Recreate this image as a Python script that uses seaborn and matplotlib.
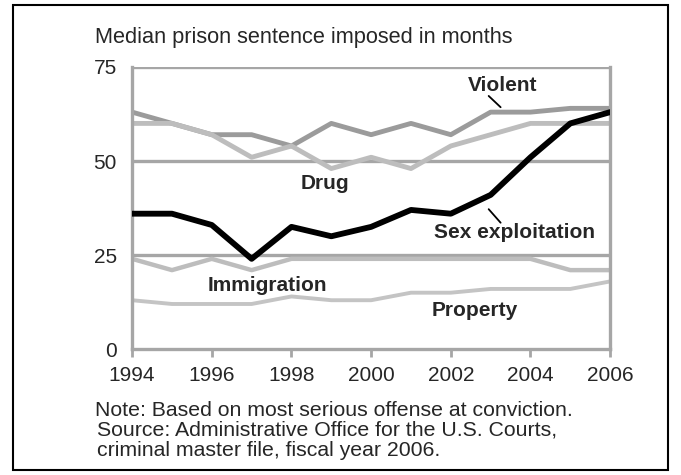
import numpy as np
import pandas as pd
import seaborn as sns
import matplotlib.pyplot as plt
from matplotlib.patches import Rectangle

# data
years = list(range(1994, 2007))
violent = [63, 60, 57, 57, 54, 60, 57, 60, 57, 63, 63, 64, 64]
drug = [60, 60, 57, 51, 54, 48, 51, 48, 54, 57, 60, 60, 60]
sex_exploitation = [36, 36, 33, 24, 32.5, 30, 32.5, 37, 36, 41, 51, 60, 63]
immigration = [24, 21, 24, 21, 24, 24, 24, 24, 24, 24, 24, 21, 21]
property_ = [13, 12, 12, 12, 14, 13, 13, 15, 15, 16, 16, 16, 18]

offenses = ["Violent", "Drug", "Immigration", "Property", "Sex exploitation"]
series = [violent, drug, immigration, property_, sex_exploitation]
colors = ["#9b9b9b", "#bdbdbd", "#bdbdbd", "#c4c4c4", "#000000"]
widths = [3.5, 3.5, 3.2, 2.8, 4.2]

df = pd.DataFrame({
    "year": np.tile(years, len(offenses)),
    "months": np.concatenate(series),
    "offense": np.repeat(offenses, len(years)),
})

sns.set_style("white")
plt.rcParams["font.family"] = ["Liberation Sans", "DejaVu Sans"]

fig = plt.figure(figsize=(6.81, 4.75), dpi=100)
ax = fig.add_axes([0.194, 0.265, 0.702, 0.594])

gray = "#a6a6a6"
for v in [25, 50, 75]:
    ax.axhline(v, color=gray, lw=2.4, zorder=1)

for name, c, w in zip(offenses, colors, widths):
    sns.lineplot(data=df[df.offense == name], x="year", y="months", color=c,
                 lw=w, ax=ax, zorder=3 if name == "Sex exploitation" else 2)

ax.set_xlim(1994, 2006)
ax.set_ylim(0, 75)
ax.set_xticks(range(1994, 2007, 2))
ax.set_yticks([0, 25, 50, 75])
ax.set_xlabel("")
ax.set_ylabel("")
ax.spines["top"].set_visible(False)
for s in ["left", "bottom", "right"]:
    ax.spines[s].set_color(gray)
    ax.spines[s].set_linewidth(2.4)
ax.tick_params(axis="x", bottom=True, length=6, width=2, color=gray,
               labelsize=15, pad=6)
ax.tick_params(axis="y", length=0, labelsize=15, pad=11)

# series labels
lab = dict(fontsize=15, fontweight="bold", ha="center", va="center")
ax.text(2003.3, 70.2, "Violent", **lab)
ax.plot([2002.95, 2003.25], [67.3, 64.3], color="black", lw=1.3)
ax.text(1998.85, 44.1, "Drug", **lab)
ax.text(2003.6, 31.1, "Sex exploitation", **lab)
ax.plot([2002.95, 2003.25], [37.2, 33.6], color="black", lw=1.3)
ax.text(1997.4, 17.0, "Immigration", **lab)
ax.text(2002.6, 10.4, "Property", **lab)

fig.text(95 / 681, 1 - 38 / 475, "Median prison sentence imposed in months",
         fontsize=15.7, ha="left", va="center")
fig.text(95 / 681, 1 - 411 / 475, "Note: Based on most serious offense at conviction.",
         fontsize=15.3, ha="left", va="center")
fig.text(97 / 681, 1 - 430 / 475, "Source: Administrative Office for the U.S. Courts,",
         fontsize=15.3, ha="left", va="center")
fig.text(97 / 681, 1 - 450 / 475, "criminal master file, fiscal year 2006.",
         fontsize=15.3, ha="left", va="center")

fig.patches.append(Rectangle((13 / 681, 5 / 475), 655 / 681, 465 / 475,
                             transform=fig.transFigure, fill=False,
                             edgecolor="black", lw=1.5))

fig.savefig("out.png", dpi=100)
